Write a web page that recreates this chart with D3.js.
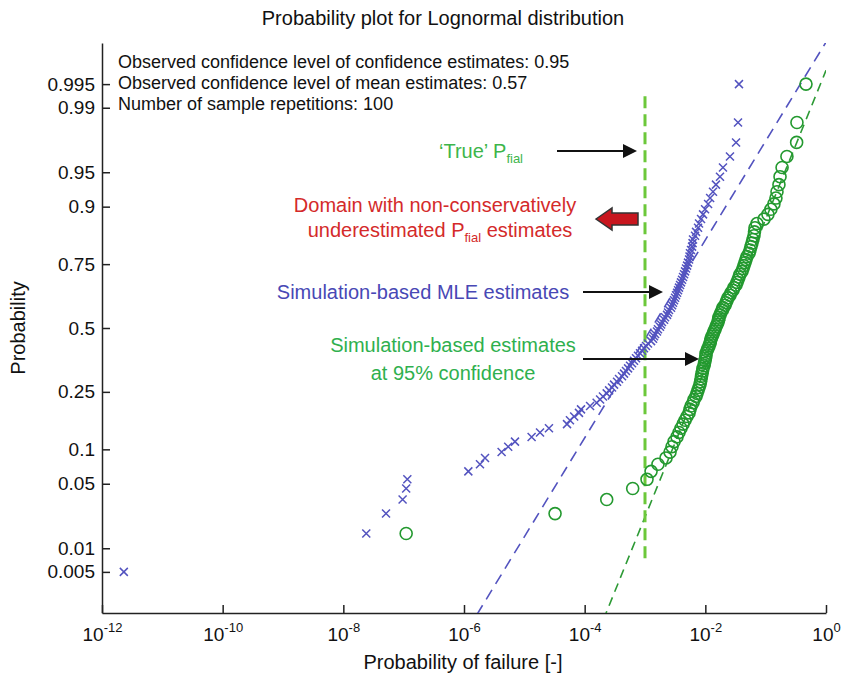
<!DOCTYPE html>
<html>
<head>
<meta charset="utf-8">
<script src="https://cdn.jsdelivr.net/npm/d3@7"></script>
<style>
  body { margin: 0; background: #fff; }
  svg { font-family: "Liberation Sans", Arial, sans-serif; }
</style>
</head>
<body>
<div id="chart"></div>
<script>
// Sorted failure-probability estimates, one per sample repetition (100 each)
const mleEstimates = [
  2.3e-12, 2.4e-8, 5.1e-8, 9.6e-8, 1.1e-7, 1.15e-7, 1.18e-6, 1.84e-6, 2.23e-6, 4.2e-6,
  5.4e-6, 7.0e-6, 1.32e-5, 1.82e-5, 2.56e-5, 5.1e-5, 5.7e-5, 6.7e-5, 8.05e-5, 8.7e-5,
  1.23e-4, 1.58e-4, 1.8e-4, 2.01e-4, 2.32e-4, 2.54e-4, 2.84e-4, 3.07e-4, 3.44e-4, 3.71e-4,
  4.16e-4, 4.49e-4, 4.84e-4, 5.24e-4, 5.65e-4, 6.1e-4, 6.58e-4, 7.1e-4, 7.66e-4, 8.28e-4,
  8.93e-4, 9.64e-4, 1.04e-3, 1.12e-3, 1.26e-3, 1.36e-3, 1.41e-3, 1.47e-3, 1.58e-3, 1.64e-3,
  1.77e-3, 1.85e-3, 1.91e-3, 2.07e-3, 2.15e-3, 2.32e-3, 2.41e-3, 2.5e-3, 2.7e-3, 2.81e-3,
  2.91e-3, 3.03e-3, 3.15e-3, 3.27e-3, 3.4e-3, 3.53e-3, 3.66e-3, 3.81e-3, 3.95e-3, 4.11e-3,
  4.27e-3, 4.44e-3, 4.61e-3, 4.79e-3, 4.98e-3, 5.16e-3, 5.37e-3, 5.47e-3, 5.57e-3, 5.79e-3,
  6.03e-3, 6.14e-3, 6.25e-3, 6.75e-3, 7.02e-3, 7.57e-3, 7.87e-3, 8.49e-3, 9.16e-3, 9.89e-3,
  1.11e-2, 1.2e-2, 1.34e-2, 1.5e-2, 1.75e-2, 1.96e-2, 2.56e-2, 3.23e-2, 3.48e-2, 3.61e-2
];
const confEstimates = [
  4e-13, 1.1e-7, 3.23e-5, 2.32e-4, 6.25e-4, 1.08e-3, 1.26e-3, 1.64e-3, 2.23e-3, 2.6e-3,
  2.8e-3, 3.03e-3, 3.39e-3, 3.66e-3, 3.95e-3, 4.27e-3, 4.61e-3, 4.97e-3, 5.37e-3, 5.57e-3,
  5.79e-3, 6.25e-3, 6.49e-3, 7.0e-3, 7.28e-3, 7.56e-3, 7.85e-3, 8.16e-3, 8.32e-3, 8.48e-3,
  8.64e-3, 8.8e-3, 8.97e-3, 9.14e-3, 9.5e-3, 9.68e-3, 9.87e-3, 1.006e-2, 1.025e-2, 1.027e-2,
  1.066e-2, 1.107e-2, 1.15e-2, 1.194e-2, 1.218e-2, 1.241e-2, 1.29e-2, 1.34e-2, 1.39e-2, 1.45e-2,
  1.5e-2, 1.56e-2, 1.62e-2, 1.65e-2, 1.68e-2, 1.75e-2, 1.82e-2, 1.89e-2, 1.96e-2, 2.12e-2,
  2.2e-2, 2.29e-2, 2.37e-2, 2.56e-2, 2.66e-2, 2.87e-2, 2.98e-2, 3.22e-2, 3.35e-2, 3.48e-2,
  3.61e-2, 3.75e-2, 4.05e-2, 4.21e-2, 4.37e-2, 4.54e-2, 4.72e-2, 4.9e-2, 5.3e-2, 5.5e-2,
  5.71e-2, 5.93e-2, 6.16e-2, 6.4e-2, 6.53e-2, 6.65e-2, 7.18e-2, 9.38e-2, 0.109, 0.122,
  0.137, 0.148, 0.154, 0.166, 0.173, 0.187, 0.225, 0.326, 0.33, 0.466
];

// Lognormal reference lines (median, sigma of log10)
const fitMedians = [1.29e-3, 1.86e-2];
const fitSigmas = [0.957, 0.636];

// 'True' failure probability and the probability span of its marker line
const truePf = 1e-3;
const truePfSpan = [0.0075, 0.9935];

const probTicks = [0.005, 0.01, 0.05, 0.1, 0.25, 0.5, 0.75, 0.9, 0.95, 0.99, 0.995];
const probTickLabels = ['0.005', '0.01', '0.05', '0.1', '0.25', '0.5', '0.75', '0.9', '0.95', '0.99', '0.995'];
const pfTicks = [1e-12, 1e-10, 1e-8, 1e-6, 1e-4, 1e-2, 1];
const pfTickExponents = ['-12', '-10', '-8', '-6', '-4', '-2', '0'];

const infoLines = [
  'Observed confidence level of confidence estimates: 0.95',
  'Observed confidence level of mean estimates: 0.57',
  'Number of sample repetitions: 100',
];

const blue = '#5353bf';
const green = '#23992f';

// inverse standard normal CDF (Acklam)
function probit(p) {
  const a = [-39.69683028665376, 220.9460984245205, -275.9285104469687, 138.357751867269, -30.66479806614716, 2.506628277459239];
  const b = [-54.47609879822406, 161.5858368580409, -155.6989798598866, 66.80131188771972, -13.28068155288572];
  const c = [-0.007784894002430293, -0.3223964580411365, -2.400758277161838, -2.549732969343734, 4.374664141464968, 2.938163982698783];
  const d = [0.007784695709041462, 0.3224671290700398, 2.445134137142996, 3.754408661907416];
  const plow = 0.02425;
  let q, r;
  if (p < plow) {
    q = Math.sqrt(-2 * Math.log(p));
    return (((((c[0] * q + c[1]) * q + c[2]) * q + c[3]) * q + c[4]) * q + c[5]) /
      ((((d[0] * q + d[1]) * q + d[2]) * q + d[3]) * q + 1);
  }
  if (p > 1 - plow) {
    q = Math.sqrt(-2 * Math.log(1 - p));
    return -(((((c[0] * q + c[1]) * q + c[2]) * q + c[3]) * q + c[4]) * q + c[5]) /
      ((((d[0] * q + d[1]) * q + d[2]) * q + d[3]) * q + 1);
  }
  q = p - 0.5;
  r = q * q;
  return (((((a[0] * r + a[1]) * r + a[2]) * r + a[3]) * r + a[4]) * r + a[5]) * q /
    (((((b[0] * r + b[1]) * r + b[2]) * r + b[3]) * r + b[4]) * r + 1);
}

// median-rank plotting positions used by probplot
function withPositions(values) {
  const n = values.length;
  return values.map((v, i) => ({ x: v, p: (i + 0.5) / n }));
}

const margin = { top: 43, right: 18, bottom: 69, left: 102 };
const width = 844 - margin.left - margin.right;
const height = 682 - margin.top - margin.bottom;

const svg = d3
  .select('#chart')
  .append('svg')
  .attr('width', 844)
  .attr('height', 682);

svg.append('rect').attr('width', 844).attr('height', 682).attr('fill', '#fff');

const g = svg.append('g').attr('transform', `translate(${margin.left},${margin.top})`);

const x = d3.scaleLog().domain([1e-12, 1]).range([0, width]);
const z = d3.scaleLinear().domain([-3.01, 3.01]).range([height, 0]);
const y = (p) => z(probit(p));

g.append('defs')
  .append('clipPath')
  .attr('id', 'plot-clip')
  .append('rect')
  .attr('width', width)
  .attr('height', height);

// Axes (MATLAB style: inward ticks, no box)
const xAxis = g
  .append('g')
  .attr('transform', `translate(0,${height})`)
  .call(d3.axisBottom(x).tickValues(pfTicks).tickSizeInner(-8).tickSizeOuter(0).tickPadding(15));

xAxis.selectAll('.tick text').each(function (d, i) {
  const t = d3.select(this).text('');
  t.append('tspan').text('10');
  t.append('tspan').attr('dy', '-0.75em').attr('font-size', 13).text(pfTickExponents[i]);
});

const yAxis = g
  .append('g')
  .call(
    d3.axisLeft(z)
      .tickValues(probTicks.map(probit))
      .tickFormat((d, i) => probTickLabels[i])
      .tickSizeInner(-8)
      .tickSizeOuter(0)
      .tickPadding(7)
  );

[xAxis, yAxis].forEach((ax) => {
  ax.attr('font-size', 19).attr('font-family', null);
  ax.selectAll('path, line').attr('stroke', '#222').attr('stroke-width', 1.5);
  ax.selectAll('text').attr('fill', '#111');
});

// Plotted marks
const plot = g.append('g').attr('clip-path', 'url(#plot-clip)');

plot
  .selectAll('.fit')
  .data(fitMedians)
  .enter()
  .append('path')
  .attr('fill', 'none')
  .attr('stroke', (d, i) => (i === 0 ? blue : '#2d9a35'))
  .attr('stroke-width', 1.6)
  .attr('stroke-dasharray', (d, i) => (i === 0 ? '11,7' : '9,6'))
  .attr('d', (m, i) =>
    d3.line()
      .x((v) => x(v))
      .y((v) => z((Math.log10(v) - Math.log10(m)) / fitSigmas[i]))(x.domain())
  );

plot
  .append('line')
  .attr('x1', x(truePf))
  .attr('x2', x(truePf))
  .attr('y1', y(truePfSpan[0]))
  .attr('y2', y(truePfSpan[1]))
  .attr('stroke', '#6cc83a')
  .attr('stroke-width', 3)
  .attr('stroke-dasharray', '12,6');

plot
  .selectAll('.mle')
  .data(withPositions(mleEstimates))
  .enter()
  .append('path')
  .attr('transform', (d) => `translate(${x(d.x)},${y(d.p)})`)
  .attr('d', 'M-4,-4L4,4M-4,4L4,-4')
  .attr('stroke', blue)
  .attr('stroke-width', 1.5);

plot
  .selectAll('.conf')
  .data(withPositions(confEstimates))
  .enter()
  .append('circle')
  .attr('cx', (d) => x(d.x))
  .attr('cy', (d) => y(d.p))
  .attr('r', 6)
  .attr('fill', 'none')
  .attr('stroke', green)
  .attr('stroke-width', 1.6);

// Titles
svg.append('text')
  .attr('x', 443).attr('y', 25)
  .attr('text-anchor', 'middle')
  .attr('font-size', 20)
  .attr('fill', '#111')
  .text('Probability plot for Lognormal distribution');

svg.append('text')
  .attr('x', 463).attr('y', 669)
  .attr('text-anchor', 'middle')
  .attr('font-size', 20)
  .attr('fill', '#111')
  .text('Probability of failure [-]');

svg.append('text')
  .attr('transform', 'translate(25,328) rotate(-90)')
  .attr('text-anchor', 'middle')
  .attr('font-size', 20)
  .attr('fill', '#111')
  .text('Probability');

svg.selectAll('.info')
  .data(infoLines)
  .enter()
  .append('text')
  .attr('x', 118)
  .attr('y', (d, i) => 68 + i * 21)
  .attr('font-size', 18)
  .attr('fill', '#111')
  .text((d) => d);

// Annotations
function subText(sel, parts) {
  parts.forEach((pt) => {
    const ts = sel.append('tspan').text(pt.t);
    if (pt.sub) ts.attr('font-size', 13).attr('dy', 5);
    else if (pt.after) ts.attr('dy', -5);
  });
}

function arrow(x1, x2, yy) {
  svg.append('line')
    .attr('x1', x1).attr('x2', x2 - 12)
    .attr('y1', yy).attr('y2', yy)
    .attr('stroke', '#111').attr('stroke-width', 2);
  svg.append('path')
    .attr('d', `M${x2},${yy}L${x2 - 14},${yy - 7}L${x2 - 14},${yy + 7}Z`)
    .attr('fill', '#111');
}

subText(
  svg.append('text').attr('x', 481).attr('y', 158).attr('text-anchor', 'middle')
    .attr('font-size', 20).attr('fill', '#3db54a'),
  [{ t: '\u2018True\u2019 P' }, { t: 'fial', sub: true }]
);
arrow(557, 637, 151);

svg.append('text').attr('x', 435).attr('y', 212).attr('text-anchor', 'middle')
  .attr('font-size', 20).attr('fill', '#d42a2a')
  .text('Domain with non-conservatively');
subText(
  svg.append('text').attr('x', 440).attr('y', 237).attr('text-anchor', 'middle')
    .attr('font-size', 20).attr('fill', '#d42a2a'),
  [{ t: 'underestimated P' }, { t: 'fial', sub: true }, { t: ' estimates', after: true }]
);
svg.append('path')
  .attr('d', 'M596,219L612,208L612,213L638,213L638,225L612,225L612,230Z')
  .attr('fill', '#c8161e')
  .attr('stroke', '#333')
  .attr('stroke-width', 1.5);

svg.append('text').attr('x', 423).attr('y', 299).attr('text-anchor', 'middle')
  .attr('font-size', 20).attr('fill', '#4848b5')
  .text('Simulation-based MLE estimates');
arrow(583, 663, 292);

svg.append('text').attr('x', 453).attr('y', 352).attr('text-anchor', 'middle')
  .attr('font-size', 20).attr('fill', '#2fb04e')
  .text('Simulation-based estimates');
svg.append('text').attr('x', 453).attr('y', 380).attr('text-anchor', 'middle')
  .attr('font-size', 20).attr('fill', '#2fb04e')
  .text('at 95% confidence');
arrow(583, 699, 359);
</script>
</body>
</html>
